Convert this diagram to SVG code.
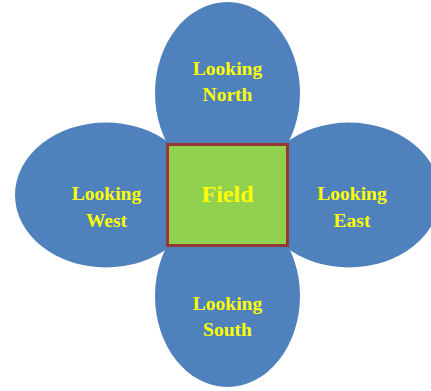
<svg xmlns="http://www.w3.org/2000/svg" width="431" height="391" viewBox="0 0 431 391">
<style>
.petal{fill:#4f81bd;stroke:none}
.lbl{font-family:"Liberation Serif","Times New Roman",serif;font-weight:bold;font-size:19.5px;fill:#ffff00;text-anchor:middle}
.center{fill:#92d050;stroke:#953735;stroke-width:3}
.title{font-family:"Liberation Serif","Times New Roman",serif;font-weight:bold;font-size:24px;fill:#ffff00;text-anchor:middle}
</style>
<rect width="431" height="391" fill="#ffffff"/>
<g id="north">
<ellipse class="petal" cx="227.5" cy="93" rx="72.5" ry="91"/>
<text class="lbl" x="227.5" y="75">Looking</text>
<text class="lbl" x="227.5" y="101">North</text>
</g>
<g id="south">
<ellipse class="petal" cx="227.5" cy="296" rx="72.5" ry="91"/>
<text class="lbl" x="227.5" y="310">Looking</text>
<text class="lbl" x="227.5" y="336">South</text>
</g>
<g id="west">
<ellipse class="petal" cx="106" cy="195" rx="91" ry="72.5"/>
<text class="lbl" x="106.5" y="200">Looking</text>
<text class="lbl" x="106.5" y="227">West</text>
</g>
<g id="east">
<ellipse class="petal" cx="349" cy="195" rx="91" ry="72.5"/>
<text class="lbl" x="352" y="200">Looking</text>
<text class="lbl" x="352" y="227">East</text>
</g>
<g id="field">
<rect class="center" x="167.5" y="144.5" width="120" height="101"/>
<text class="title" x="227.5" y="202">Field</text>
</g>
<g id="connectors"></g>
</svg>
